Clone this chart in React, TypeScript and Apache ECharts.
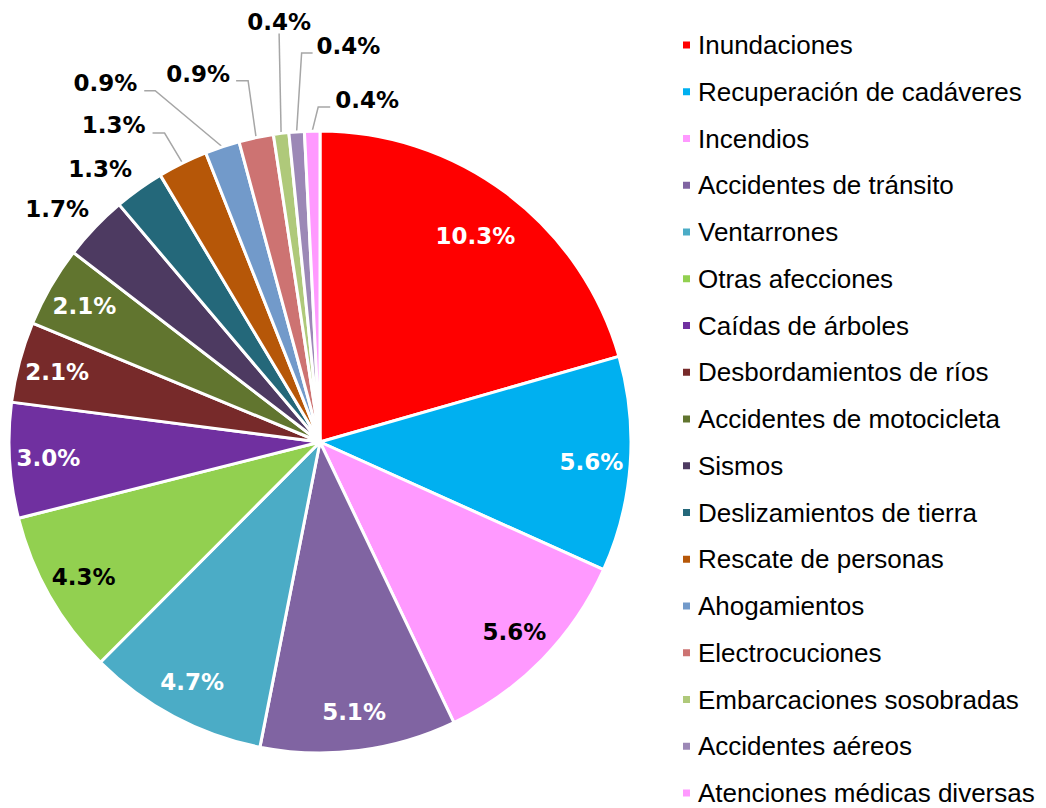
import React, { useEffect, useRef } from "react";
import * as echarts from "echarts";

const categories = [
  "Inundaciones",
  "Recuperación de cadáveres",
  "Incendios",
  "Accidentes de tránsito",
  "Ventarrones",
  "Otras afecciones",
  "Caídas de árboles",
  "Desbordamientos de ríos",
  "Accidentes de motocicleta",
  "Sismos",
  "Deslizamientos de tierra",
  "Rescate de personas",
  "Ahogamientos",
  "Electrocuciones",
  "Embarcaciones sosobradas",
  "Accidentes aéreos",
  "Atenciones médicas diversas",
];

const values = [10.3, 5.6, 5.6, 5.1, 4.7, 4.3, 3.0, 2.1, 2.1, 1.7, 1.3, 1.3, 0.9, 0.9, 0.4, 0.4, 0.4];

const colors = [
  "#FF0000", "#00B0F0", "#FF99FF", "#8064A2", "#4BACC6", "#92D050", "#7030A0",
  "#772A2A", "#61752F", "#4D3A61", "#24687A", "#B65708", "#729ACA", "#CD7372",
  "#AFC97A", "#9C88B6", "#FF99FF",
];

const darkTextIdx = [2, 5];

// layout of chart (px)
const CX = 320;
const CY = 442;
const R = 311;

// placements of outside labels relative to slice edge point
const outerPlacement: Record<number, any> = {
  9: { line: false, text: [-6, -18], align: "right" },
  10: { line: false, text: [-7, -20], align: "right" },
  11: { bend: [-18, -30], end: [-30, -30], text: [-7, -8], align: "right" },
  12: { bend: [-67, -56], end: [-78, -56], text: [-7, -8], align: "right" },
  13: { bend: [-8, -57], end: [-20, -57], text: [-6, -7], align: "right" },
  14: { bend: [-2, -100], end: [-2, -100], text: [0, -11], align: "center" },
  15: { bend: [5, -79], end: [16, -79], text: [4, -7], align: "left" },
  16: { bend: [6, -24], end: [18, -24], text: [5, -7], align: "left" },
};

export default function App() {
  const ref = useRef<HTMLDivElement>(null);

  useEffect(() => {
    if (!ref.current) return;
    const chart = echarts.init(ref.current, undefined, { renderer: "svg" });

    const total = values.reduce((a, b) => a + b, 0);
    const mids: number[] = [];
    let acc = 0;
    values.forEach((v) => {
      mids.push(((acc + v / 2) / total) * Math.PI * 2);
      acc += v;
    });

    const data = categories.map((name, i) => {
      const outer = outerPlacement[i];
      return {
        name,
        value: values[i],
        itemStyle: { color: colors[i] },
        label: {
          position: outer ? "outside" : "inside",
          color: outer ? "#000" : darkTextIdx.includes(i) ? "#000" : "#fff",
        },
        labelLine: { show: !!(outer && outer.line !== false) },
      };
    });

    chart.setOption({
      animation: false,
      legend: {
        orient: "vertical",
        left: 681,
        top: 32,
        padding: 0,
        itemWidth: 9,
        itemHeight: 9,
        itemGap: 20.75,
        icon: "rect",
        selectedMode: false,
        data: categories,
        textStyle: {
          fontFamily: "'Liberation Sans', Arial, sans-serif",
          fontSize: 26,
          lineHeight: 26,
          color: "#000",
          padding: [0, 0, 0, 2],
        },
      },
      series: [
        {
          type: "pie",
          center: [CX, CY],
          radius: [0, R],
          startAngle: 90,
          clockwise: true,
          avoidLabelOverlap: false,
          silent: true,
          itemStyle: { borderColor: "#fff", borderWidth: 3 },
          label: {
            show: true,
            formatter: (p: any) => `${p.value.toFixed(1)}%`,
            fontFamily: "'DejaVu Sans', Verdana, sans-serif",
            fontWeight: "bold",
            fontSize: 23,
          },
          labelLine: {
            lineStyle: { color: "#A6A6A6", width: 1.5 },
            length: 10,
            length2: 10,
          },
          labelLayout: (params: any) => {
            const i = params.dataIndex;
            const a = mids[i];
            const sx = Math.sin(a);
            const sy = -Math.cos(a);
            const outer = outerPlacement[i];
            if (!outer) {
              const r = i === 0 ? 258 : 272;
              return {
                x: CX + r * sx,
                y: CY + r * sy,
                align: "center",
                verticalAlign: "middle",
              };
            }
            const ex = CX + R * sx;
            const ey = CY + R * sy;
            if (outer.line === false) {
              return {
                x: ex + outer.text[0],
                y: ey + outer.text[1],
                align: outer.align,
                verticalAlign: "middle",
              };
            }
            const bx = ex + outer.bend[0];
            const by = ey + outer.bend[1];
            const tx = ex + outer.end[0];
            const ty = ey + outer.end[1];
            return {
              x: tx + outer.text[0],
              y: ty + outer.text[1],
              align: outer.align,
              verticalAlign: "middle",
              labelLinePoints: [
                [ex, ey],
                [bx, by],
                [tx, ty],
              ],
            };
          },
          data,
        },
      ],
    });

    return () => chart.dispose();
  }, []);

  return (
    <div
      ref={ref}
      style={{ position: "fixed", left: 0, top: 0, width: 1046, height: 808, background: "#fff" }}
    />
  );
}
